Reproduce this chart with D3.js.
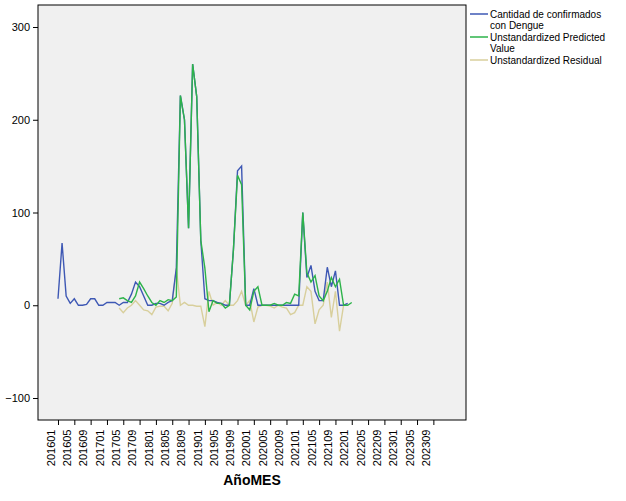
<!DOCTYPE html>
<html><head><meta charset="utf-8">
<script src="https://cdn.jsdelivr.net/npm/d3@7"></script>
<style>body{margin:0;background:#fff;font-family:"Liberation Sans",Arial,sans-serif}</style>
</head><body><svg id="c" width="626" height="501"></svg>
<script>
// month index 0 = 201601
const tickLabels = ["201601","201605","201609","201701","201705","201709","201801","201805","201809","201901","201905","201909","202001","202005","202009","202101","202105","202109","202201","202205","202209","202301","202305","202309"];

// confirmed cases, months 0..71
const confirmed = [7,67,10,2,7,0,0,1,7,7,0,0,3,3,3,0,3,3,12,25,20,10,0,0,2,2,0,3,5,40,
  226,200,83,260,225,70,7,5,5,3,2,0,0,60,145,150,0,0,18,0,0,0,0,0,0,0,0,0,0,0,
  100,30,43,15,5,5,41,20,37,0,0,2];
// predicted, months 15..72
const predStart = 15;
const predicted = [7,8,5,3,10,25,18,10,3,0,5,3,6,5,9,
  226,200,83,260,225,70,40,-7,5,2,2,-3,0,60,140,130,0,-5,15,20,0,0,0,2,0,0,3,2,12,10,
  100,35,25,32,10,5,15,30,20,28,0,0,3];
// residual, months 15..71
const residual = [-3,-8,-3,0,5,0,-5,-6,-10,-2,-1,-1,-6,2,40,0,3,0,0,-1,-1,-23,15,0,3,0,5,0,0,5,15,0,5,-18,-2,0,0,-1,-3,0,-2,-3,-10,-8,0,0,20,15,-20,-5,0,25,-13,15,-28,0,0];

const seriesNames = [["Cantidad de confirmados","con Dengue"],["Unstandardized Predicted","Value"],["Unstandardized Residual"]];
const colors = ["#3e58b4","#2db34a","#d8cf9c"];

const svg = d3.select("#c");
const L=38,R=466,T=5,B=420;
const x = d3.scaleLinear().domain([-4.9,100]).range([L,R]);
const y = d3.scaleLinear().domain([-100,300]).range([398,27]);

svg.append("rect").attr("x",L).attr("y",T).attr("width",R-L).attr("height",B-T)
  .attr("fill","#f0f0f0").attr("stroke","#000").attr("stroke-width",1);

const yAxis = svg.append("g").attr("transform",`translate(${L},0)`)
  .call(d3.axisLeft(y).tickValues([-100,0,100,200,300]).tickSize(5).tickSizeOuter(0));
yAxis.select(".domain").remove();
yAxis.selectAll("text").attr("font-size",11).attr("fill","#000");

const tickIdx = tickLabels.map(t => (+t.slice(0,4)-2016)*12 + (+t.slice(4)-1));
const xAxis = svg.append("g").attr("transform",`translate(0,${B})`)
  .call(d3.axisBottom(x).tickValues(tickIdx).tickFormat((d,i)=>tickLabels[i]).tickSize(5).tickSizeOuter(0));
xAxis.select(".domain").remove();
xAxis.selectAll("text").attr("font-size",11).attr("fill","#000")
  .attr("transform","rotate(-90)").attr("text-anchor","end").attr("dx","-0.5em").attr("dy","-0.35em").attr("x",-4).attr("y",0);

const line = d3.line().x(d=>x(d[0])).y(d=>y(d[1]));
const sets = [confirmed.map((v,i)=>[i,v]), predicted.map((v,i)=>[i+predStart,v]), residual.map((v,i)=>[i+predStart,v])];
[2,0,1].forEach(k=>{
  svg.append("path").attr("d",line(sets[k])).attr("fill","none")
    .attr("stroke",colors[k]).attr("stroke-width",1.4);
});

// legend
let ly = 14;
seriesNames.forEach((n,i)=>{
  svg.append("line").attr("x1",470).attr("x2",488).attr("y1",ly).attr("y2",ly)
    .attr("stroke",colors[i]).attr("stroke-width",1.5);
  n.forEach((t,j)=>{
    svg.append("text").attr("x",490).attr("y",ly+4+j*11).attr("font-size",10).text(t);
  });
  ly += n.length*11 + 1;
});

svg.append("text").attr("x",252).attr("y",485).attr("text-anchor","middle")
  .attr("font-size",14).attr("font-weight","bold").text("AñoMES");
</script></body></html>
